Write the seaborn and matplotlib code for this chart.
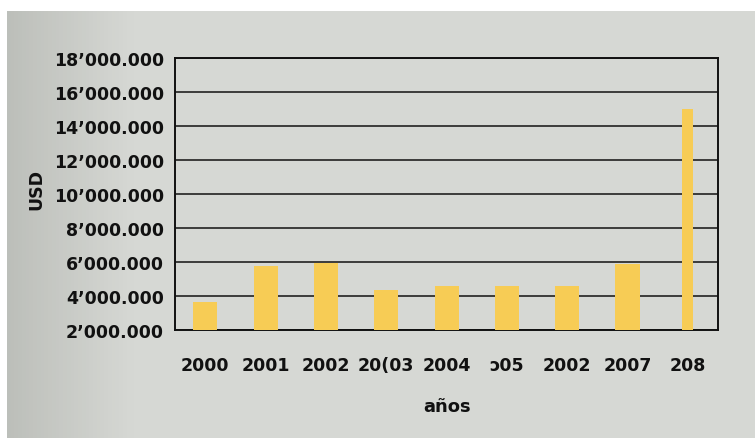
import numpy as np
import pandas as pd
import matplotlib
matplotlib.use("Agg")
import matplotlib.pyplot as plt
from matplotlib.ticker import FixedLocator, FuncFormatter
import seaborn as sns

# Annual amounts in USD
years = ["2000", "2001", "2002", "20(03", "2004", "ɔ05", "2002", "2007", "208"]
usd = [3650000, 5750000, 5950000, 4350000, 4600000, 4600000, 4600000, 5900000, 15000000]
y_ticks = [2000000, 4000000, 6000000, 8000000, 10000000,
           12000000, 14000000, 16000000, 18000000]

df = pd.DataFrame({"año": range(len(years)), "usd": usd})

sns.set_theme(style="white")
plt.rcParams["font.family"] = ["DejaVu Sans"]

page = "#d6d8d4"
bar_color = "#f7cc55"
ink = "#111111"

fig = plt.figure(figsize=(7.55, 4.39), dpi=100, facecolor="white")

# Page backdrop with a soft shadow along the left edge
bg = fig.add_axes([0, 0, 1, 1], zorder=-10)
bg.set_xlim(0, 755)
bg.set_ylim(439, 0)
bg.axis("off")
grad = np.linspace(0, 1, 200)
shade = np.clip(grad * 6, 0, 1)
rgb_dark = np.array([0.74, 0.75, 0.73])
rgb_page = np.array(matplotlib.colors.to_rgb(page))
img = rgb_dark[None, :] * (1 - shade[:, None]) + rgb_page[None, :] * shade[:, None]
bg.imshow(img[None, :, :], extent=[7, 755, 439, 12], aspect="auto")

ax = fig.add_axes([0.232, 0.246, 0.719, 0.620])
ax.set_facecolor(page)

sns.barplot(data=df, x="año", y="usd", color=bar_color, width=0.4,
            saturation=1, linewidth=0, edgecolor=bar_color, ax=ax, zorder=3)
# the last bar is drawn slimmer
last = ax.patches[-1]
cx = last.get_x() + last.get_width() / 2
last.set_width(0.18)
last.set_x(cx - 0.09)

ax.set_ylim(2000000, 18000000)
ax.yaxis.set_major_locator(FixedLocator(y_ticks))


def fmt(v, pos):
    millions = int(round(v / 1000000))
    return f"{millions}\u2019000.000"


ax.yaxis.set_major_formatter(FuncFormatter(fmt))
ax.set_xticks(range(len(years)))
ax.set_xticklabels(years)
ax.grid(axis="y", color=ink, linewidth=1.1, zorder=1)
ax.set_axisbelow(True)

for s in ax.spines.values():
    s.set_color(ink)
    s.set_linewidth(1.4)

ax.tick_params(axis="y", length=0, pad=8, labelsize=12.5)
ax.tick_params(axis="x", length=0, pad=19, labelsize=12.5)
for t in ax.get_xticklabels() + ax.get_yticklabels():
    t.set_fontweight("bold")
    t.set_color(ink)

ax.set_xlabel("años", fontsize=13, fontweight="bold", labelpad=16, color=ink)
ax.set_ylabel("USD", fontsize=12.5, fontweight="bold", color=ink)
ax.yaxis.set_label_coords(-0.24, 0.52)

fig.savefig("out.png", dpi=100)
